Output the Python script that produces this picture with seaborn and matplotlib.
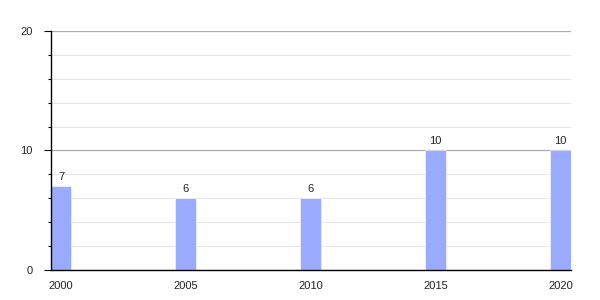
import matplotlib
matplotlib.use("Agg")
import matplotlib.pyplot as plt
import seaborn as sns
import pandas as pd
from matplotlib.ticker import MultipleLocator

years = ["2000", "2005", "2010", "2015", "2020"]
values = [7, 6, 6, 10, 10]

sns.set_theme(style="white")
plt.rcParams['font.family'] = ['Liberation Sans', 'DejaVu Sans']

df = pd.DataFrame({"year": years, "value": values})

fig = plt.figure(figsize=(6, 3), dpi=100)
ax = fig.add_axes([0.085, 0.1, 0.8667, 0.7967])

sns.barplot(data=df, x="year", y="value", ax=ax, color="#9aabff",
            width=0.168, saturation=1, edgecolor="white", linewidth=0.4, zorder=3)

ax.set_xlim(-0.08, 4.084)
ax.set_ylim(0, 20)
ax.yaxis.set_major_locator(MultipleLocator(10))
ax.yaxis.set_minor_locator(MultipleLocator(2))
ax.grid(False)
ax.grid(axis="y", which="major", color="#ababab", linewidth=0.9, zorder=1)
ax.grid(axis="y", which="minor", color="#e6e6e6", linewidth=0.8, zorder=1)
ax.set_axisbelow(True)

for s in ["top", "right"]:
    ax.spines[s].set_visible(False)
for s in ["left", "bottom"]:
    ax.spines[s].set_color("black")
    ax.spines[s].set_linewidth(1.0)
    ax.spines[s].set_zorder(4)

ax.tick_params(axis="y", which="major", left=True, length=5, width=0.8,
               color="black", labelsize=8, pad=8, labelcolor="#222222")
ax.tick_params(axis="y", which="minor", left=True, length=2.5, width=0.8, color="black")
ax.tick_params(axis="x", which="both", bottom=False, labelsize=8, pad=2,
               labelcolor="#222222")
ax.set_xlabel("")
ax.set_ylabel("")

for c in ax.containers:
    ax.bar_label(c, labels=[str(v) for v in values], padding=3, fontsize=8,
                 color="#222222")

fig.savefig("out.png", dpi=100)
